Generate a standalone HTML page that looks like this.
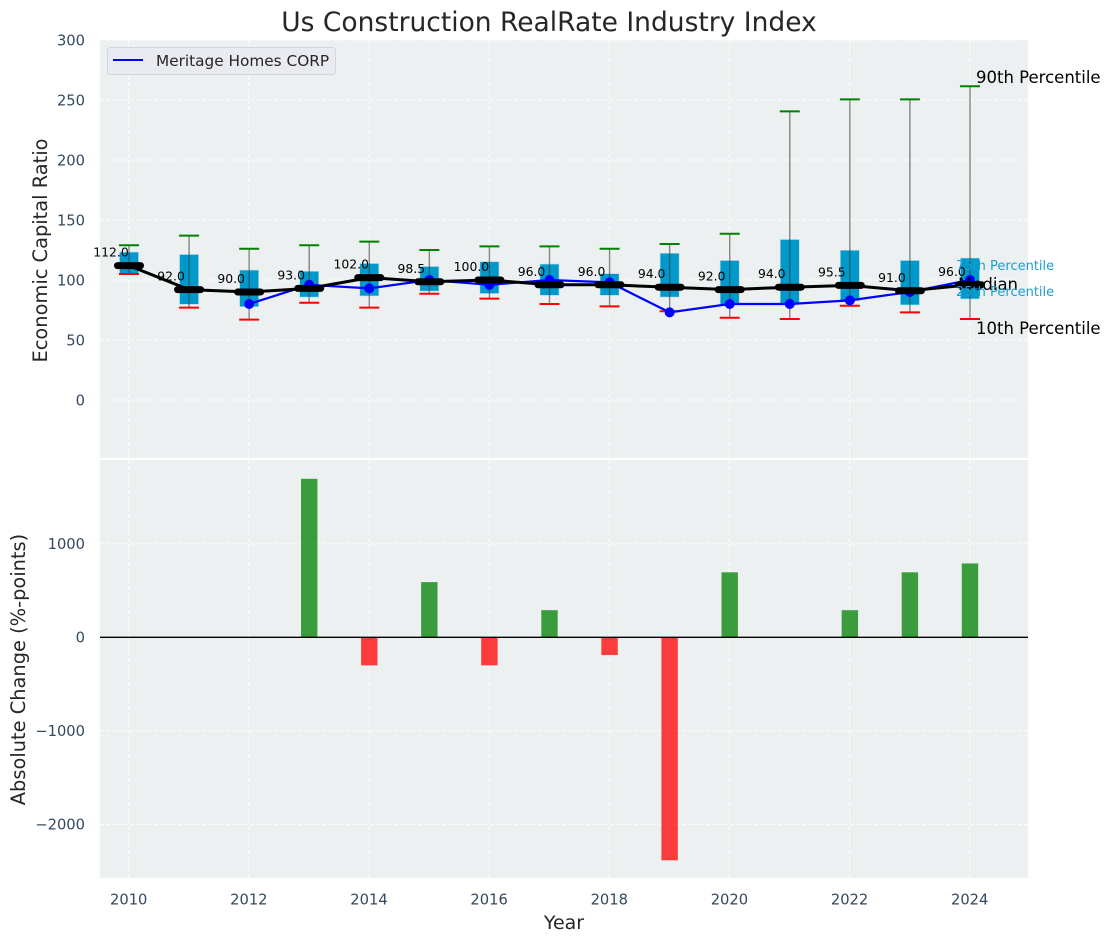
<!DOCTYPE html>
<html lang="en">
<head>
<meta charset="utf-8">
<title>Us Construction RealRate Industry Index</title>
<style>
html,body{margin:0;padding:0;background:#fff;width:1111px;height:942px;overflow:hidden}
svg{display:block;font-family:"DejaVu Sans","Liberation Sans",sans-serif}
</style>
</head>
<body>
<svg id="chart" xmlns="http://www.w3.org/2000/svg" width="1111" height="942" viewBox="0 0 1111 942">
  <text x="549" y="31" font-size="26.5" fill="#262626" text-anchor="middle">Us Construction RealRate Industry Index</text>
  <rect x="100" y="40" width="928" height="418" fill="#ecf0f1"/>
  <rect x="100" y="460" width="928" height="418" fill="#ecf0f1"/>
  <g id="grid"></g>
  <g id="bars"></g>
  <line x1="100" x2="1028" y1="637.3" y2="637.3" stroke="#000" stroke-width="1.4"/>
  <g id="boxes"></g>
  <g id="company"></g>
  <g id="medians"></g>
  <g id="labels"></g>
  <g id="ticks"></g>
  <text transform="translate(47,250.5) rotate(-90)" font-size="19.4" fill="#262626" text-anchor="middle">Economic Capital Ratio</text>
  <text transform="translate(25,669.5) rotate(-90)" font-size="19.4" fill="#262626" text-anchor="middle">Absolute Change (%-points)</text>
  <text x="564" y="929" font-size="19" fill="#262626" text-anchor="middle">Year</text>
  <g>
    <rect x="107.5" y="47.5" width="228" height="27" rx="3" fill="#e9ebf0" stroke="#d3d5d9" stroke-width="1"/>
    <line x1="113" x2="143" y1="60" y2="60" stroke="#0000ff" stroke-width="2"/>
    <text x="156" y="66" font-size="15.3" fill="#262626">Meritage Homes CORP</text>
  </g>
  <g>
    <text x="976" y="83" font-size="16.5" fill="#000">90th Percentile</text>
    <text x="956" y="270" font-size="13" fill="#1a9fcf">75th Percentile</text>
    <text x="958" y="290" font-size="16.5" fill="#000">Median</text>
    <text x="956" y="296" font-size="13" fill="#1a9fcf">25th Percentile</text>
    <text x="976" y="334" font-size="16.5" fill="#000">10th Percentile</text>
  </g>
</svg>
<script>
const years = [2010,2011,2012,2013,2014,2015,2016,2017,2018,2019,2020,2021,2022,2023,2024];
const p90 = [129,137,126,129,132,125,128,128,126,130,138.5,240.5,250.5,250.5,261.5];
const p75 = [123,121,108,107,113.5,111,115,113,105,122,116,133.5,124.5,116,118];
const medianValues = [112,92,90,93,102,98.5,100,96,96,94,92,94,95.5,91,96];
const p25 = [105,80,78,86,87,91,89,87.5,87.5,86,80,80,83,79.5,84.5];
const p10 = [105,77,67,81,77,88.5,84.5,80,78,74,68.5,67.5,78.5,73,67.5];
const companyYears = [2012,2013,2014,2015,2016,2017,2018,2019,2020,2021,2022,2023,2024];
const companyValues = [80,96,93,100,96,100,98,73,80,80,83,90,100];
const changeYears = [2013,2014,2015,2016,2017,2018,2019,2020,2022,2023,2024];
const changeValues = [1695,-300,590,-300,290,-190,-2385,695,290,695,790];
const medianLabels = ["112.0","92.0","90.0","93.0","102.0","98.5","100.0","96.0","96.0","94.0","92.0","94.0","95.5","91.0","96.0"];
const topTicks = [0,50,100,150,200,250,300];
const bottomTicks = [-2000,-1000,0,1000];
const xTicks = [2010,2012,2014,2016,2018,2020,2022,2024];

const NS = 'http://www.w3.org/2000/svg';
const xScale = v => 129 + (v - 2010) * 60.07;
const yTop = v => 400 - v * 1.2;
const yBottom = v => 637.3 - v * 0.0935;
function mk(tag, parentId, attrs) {
  const el = document.createElementNS(NS, tag);
  for (const k in attrs) el.setAttribute(k, attrs[k]);
  document.getElementById(parentId).appendChild(el);
  return el;
}
const gridStyle = {stroke:'#ffffff','stroke-width':1.1,'stroke-dasharray':'4 2','stroke-opacity':0.85};

xTicks.forEach(t => {
  [[40,458],[460,878]].forEach(span => {
    const el = mk('line','grid',Object.assign({x1:xScale(t)-0.3,x2:xScale(t)-0.3,y1:span[0],y2:span[1]},gridStyle));
    
    
  });
  const lab = mk('text','ticks',{x:xScale(t)-0.3,y:904.5,'font-size':14.7,fill:'#34495e','text-anchor':'middle'});
  
  
  lab.textContent = t;
});
topTicks.forEach(t => {
  const el = mk('line','grid',Object.assign({x1:100,x2:1028,y1:yTop(t),y2:yTop(t)},gridStyle));
  
  
  const lab = mk('text','ticks',{x:85,y:yTop(t)+5.3,'font-size':14.7,fill:'#34495e','text-anchor':'end'});
  
  
  lab.textContent = t;
});
bottomTicks.forEach(t => {
  const el = mk('line','grid',Object.assign({x1:100,x2:1028,y1:yBottom(t),y2:yBottom(t)},gridStyle));
  
  
  const lab = mk('text','ticks',{x:85,y:yBottom(t)+5.3,'font-size':14.7,fill:'#34495e','text-anchor':'end'});
  
  
  lab.textContent = String(t).replace('-', '\u2212');
});

changeYears.forEach((yr, i) => {
  const v = changeValues[i];
  const y0 = yBottom(0), y1 = yBottom(v);
  const el = mk('rect','bars',{x:xScale(yr)-8.2,width:16.4,y:Math.min(y0,y1),height:Math.abs(y1-y0),fill:v>=0?'#008000':'#ff0000','fill-opacity':0.75});
  
  
});

years.forEach((yr, i) => {
  const x = xScale(yr);
  const box = mk('rect','boxes',{x:x-9.2,width:18.4,y:yTop(p75[i]),height:yTop(p25[i])-yTop(p75[i]),fill:'#0099cc',stroke:'#0099cc','stroke-opacity':0.25,'stroke-width':1.2});
  
  
  const whisker = mk('line','boxes',{x1:x,x2:x,y1:yTop(p90[i]),y2:yTop(p10[i]),stroke:'#3d3d3d','stroke-opacity':0.6,'stroke-width':1.4});
  
  
  const hi = mk('line','boxes',{x1:x-10,x2:x+10,y1:yTop(p90[i]),y2:yTop(p90[i]),stroke:'#008000','stroke-width':2});
  
  
  const lo = mk('line','boxes',{x1:x-10,x2:x+10,y1:yTop(p10[i]),y2:yTop(p10[i]),stroke:'#ff0000','stroke-width':2});
  
  
});

const companyLine = mk('polyline','company',{points:companyYears.map((yr,i)=>xScale(yr)+','+yTop(companyValues[i])).join(' '),fill:'none',stroke:'#0000ff','stroke-width':2.2});


companyYears.forEach((yr, i) => {
  const pt = mk('circle','company',{cx:xScale(yr),cy:yTop(companyValues[i]),r:5,fill:'#0000ff'});
  
  
});

const medianLine = mk('polyline','medians',{points:years.map((yr,i)=>xScale(yr)+','+yTop(medianValues[i])).join(' '),fill:'none',stroke:'#000','stroke-width':3});


years.forEach((yr, i) => {
  const x = xScale(yr), y = yTop(medianValues[i]);
  const bar = mk('line','medians',{x1:x-11.5,x2:x+11.5,y1:y,y2:y,stroke:'#000','stroke-width':7,'stroke-linecap':'round'});
  
  
  const lab = mk('text','labels',{x:x-18,y:y-9,'font-size':12.4,fill:'#000','text-anchor':'middle'});
  
  
  lab.textContent = medianLabels[i];
});
</script>
</body>
</html>
